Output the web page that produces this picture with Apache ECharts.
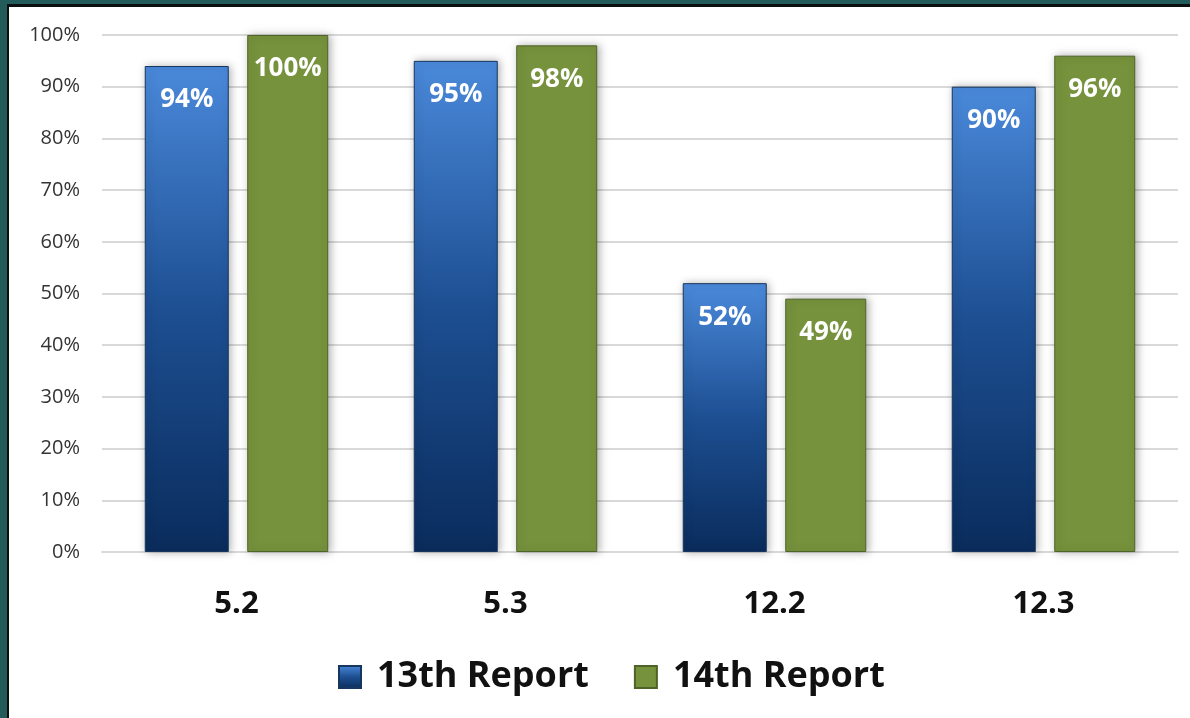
<!DOCTYPE html>
<html>
<head>
<meta charset="utf-8">
<script src="https://cdn.jsdelivr.net/npm/echarts@6/dist/echarts.min.js"></script>
<style>
  html, body { margin: 0; padding: 0; background: #235a5a; }
  .frame {
    position: absolute; left: 7px; top: 4px; width: 1183px; height: 714px;
    border-left: 2px solid #0a0f10; border-top: 3px solid #0a0f10;
    background: #ffffff; box-sizing: border-box;
  }
  #chart { position: absolute; left: 0; top: 0; width: 1181px; height: 711px; }
</style>
</head>
<body>
<div class="frame"><div id="chart"></div></div>
<script>
// chart data
const sections = ['5.2', '5.3', '12.2', '12.3']
const report13 = [94, 95, 52, 90]
const report14 = [100, 98, 49, 96]
const yTicks = [0, 10, 20, 30, 40, 50, 60, 70, 80, 90, 100]

const font = '"Open Sans", sans-serif'

let myChart = echarts.init(document.getElementById('chart'))

const blueFill = new echarts.graphic.LinearGradient(0, 0, 0, 1, [
  { offset: 0, color: '#4a89da' },
  { offset: 0.5, color: '#1d4f92' },
  { offset: 1, color: '#0a2c5c' }
])

const labelStyle = {
  show: true,
  position: 'insideTop',
  distance: 21,
  color: '#ffffff',
  fontFamily: font,
  fontWeight: 'bold',
  fontSize: 26,
  formatter: '{c}%'
}

let option = {
  backgroundColor: '#ffffff',
  animation: false,
  grid: { left: 93, right: 12, top: 28, bottom: 166 },
  legend: {
    bottom: 18,
    left: 324,
    itemWidth: 22,
    itemHeight: 22,
    itemGap: 45,
    icon: 'rect',
    textStyle: { fontFamily: font, fontWeight: 'bold', fontSize: 36, color: '#111111', padding: [0, 0, 0, 11] },
    data: ['13th Report', '14th Report']
  },
  xAxis: {
    type: 'category',
    data: sections,
    axisLine: { show: true, lineStyle: { color: '#d9d9d9', width: 2 } },
    axisTick: { show: false },
    axisLabel: { margin: 37, fontFamily: font, fontWeight: 'bold', fontSize: 31, color: '#111111' }
  },
  yAxis: {
    type: 'value',
    min: yTicks[0],
    max: yTicks[yTicks.length - 1],
    interval: 10,
    axisLine: { show: false },
    axisTick: { show: false },
    splitLine: { lineStyle: { color: '#d9d9d9', width: 2 } },
    axisLabel: { margin: 22, fontFamily: font, fontSize: 20, color: '#333333', formatter: '{value}%' }
  },
  series: [
    {
      name: '13th Report',
      type: 'bar',
      data: report13,
      barWidth: 84,
      barGap: '22%',
      itemStyle: {
        color: blueFill,
        borderColor: '#17365d',
        borderWidth: 1,
        shadowBlur: 8,
        shadowOffsetX: 2,
        shadowColor: 'rgba(0,0,0,0.3)'
      },
      label: labelStyle
    },
    {
      name: '14th Report',
      type: 'bar',
      data: report14,
      barWidth: 81,
      itemStyle: {
        color: '#76923c',
        borderColor: '#4f6228',
        borderWidth: 1,
        shadowBlur: 8,
        shadowOffsetX: 2,
        shadowColor: 'rgba(0,0,0,0.3)'
      },
      label: labelStyle
    }
  ]
}
myChart.setOption(option)
</script>
</body>
</html>
